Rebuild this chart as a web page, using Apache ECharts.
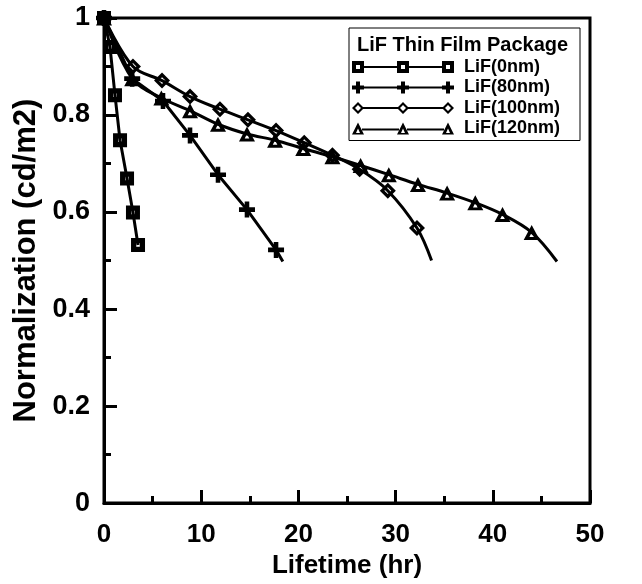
<!DOCTYPE html>
<html>
<head>
<meta charset="utf-8">
<script src="https://cdn.jsdelivr.net/npm/echarts@6/dist/echarts.min.js"></script>
<style>
  html, body { margin: 0; padding: 0; background: #fff; }
  #chart { width: 642px; height: 584px; }
</style>
</head>
<body>
<div id="chart"></div>
<script>
// values (x = lifetime in hours, y = normalized luminance)
let lif0X = [0, 0.62, 1.13, 1.65, 2.37, 2.98, 3.5]
let lif0Y = [1.0, 0.94, 0.841, 0.748, 0.669, 0.599, 0.532]

let lif80X = [0, 2.9, 6.07, 8.85, 11.73, 14.71, 17.7, 18.4]
let lif80Y = [1.0, 0.875, 0.829, 0.758, 0.677, 0.605, 0.522, 0.498]

let lif100X = [0, 2.98, 5.97, 8.85, 11.93, 14.81, 17.7, 20.6, 23.5, 26.3, 29.2, 32.2, 33.7]
let lif100Y = [1.0, 0.90, 0.871, 0.838, 0.812, 0.79, 0.768, 0.743, 0.717, 0.688, 0.644, 0.567, 0.50]

let lif120X = [0, 2.9, 5.9, 8.85, 11.73, 14.71, 17.6, 20.5, 23.5, 26.4, 29.3, 32.3, 35.3, 38.2, 41.0, 44.0, 46.6]
let lif120Y = [1.0, 0.875, 0.835, 0.809, 0.781, 0.761, 0.748, 0.731, 0.714, 0.696, 0.677, 0.657, 0.639, 0.619, 0.595, 0.558, 0.498]

let seriesNames = ['LiF(0nm)', 'LiF(80nm)', 'LiF(100nm)', 'LiF(120nm)']
let legendTitle = 'LiF Thin Film Package'
// the curves go on a little past the last marker for these series
let lastIsEnd = [false, true, true, true]

// marker shapes: black with a small white hole
let symSquare = 'path://M0,0H12V12H0Z M4.5,4.5V7.5H7.5V4.5Z'
let symCross = 'path://M5,0H9V14H5Z M0,5H14V9H0Z'
let symDiamond = 'path://M7,0L14,7L7,14L0,7Z M7,4L4,7L7,10L10,7Z'
let symTriangle = 'path://M7,0L14,13L0,13Z M7,6.5L5,10.5L9,10.5Z'

// legend samples: line with three markers
let iconSquare = 'path://M0,0H12V12H0Z M4,4V8H8V4Z M45,0H57V12H45Z M49,4V8H53V4Z M90,0H102V12H90Z M94,4V8H98V4Z M12,5H45V7H12Z M57,5H90V7H57Z'
let iconCross = 'path://M4,0H8V12H4Z M0,4H12V8H0Z M49,0H53V12H49Z M45,4H57V8H45Z M94,0H98V12H94Z M90,4H102V8H90Z M0,5H102V7H0Z'
let iconDiamond = 'path://M6,0L12,6L6,12L0,6Z M6,3L3,6L6,9L9,6Z M51,0L57,6L51,12L45,6Z M51,3L48,6L51,9L54,6Z M96,0L102,6L96,12L90,6Z M96,3L93,6L96,9L99,6Z M11,5H46V7H11Z M56,5H91V7H56Z'
let iconTriangle = 'path://M6,0L12,12L0,12Z M6,6L4,10.5L8,10.5Z M51,0L57,12L45,12Z M51,6L49,10.5L53,10.5Z M96,0L102,12L90,12Z M96,6L94,10.5L98,10.5Z M10,6H47V8H10Z M55,6H92V8H55Z'

let seriesX = [lif0X, lif80X, lif100X, lif120X]
let seriesY = [lif0Y, lif80Y, lif100Y, lif120Y]
let symbols = [symSquare, symCross, symDiamond, symTriangle]
let symbolSizes = [14, 16, 16, [16, 15]]
let icons = [iconSquare, iconCross, iconDiamond, iconTriangle]
let smooths = [false, false, 0.35, 0.35]

let font = 'Liberation Sans, Arial, sans-serif'

let setChart = function(ele, options) {
    if (typeof echarts === 'object') {
        let myChart = echarts.init(ele, null, { renderer: 'canvas' })
        myChart.setOption(options)
        return myChart
    }
}

let series = seriesNames.map(function(name, i) {
    let xs = seriesX[i], ys = seriesY[i]
    let data = xs.map(function(x, j) {
        let item = { value: [x, ys[j]] }
        if (lastIsEnd[i] && j === xs.length - 1) item.symbol = 'none'
        return item
    })
    return {
        name: name,
        type: 'line',
        data: data,
        smooth: smooths[i],
        symbol: symbols[i],
        symbolSize: symbolSizes[i],
        showAllSymbol: true,
        clip: false,
        lineStyle: { color: '#000', width: 3 },
        itemStyle: { color: '#000' },
        emphasis: { disabled: true },
        z: 3
    }
})

let axisCommon = {
    type: 'value',
    axisLine: { show: true, lineStyle: { color: '#000', width: 3 } },
    axisTick: { show: true, inside: true, length: 13, lineStyle: { color: '#000', width: 3 } },
    minorTick: { show: true, splitNumber: 2, length: 7, lineStyle: { color: '#000', width: 3 } },
    splitLine: { show: false },
    minorSplitLine: { show: false },
    nameTextStyle: { color: '#000', fontWeight: 'bold', fontSize: 26, fontFamily: font }
}

let options = {
    animation: false,
    backgroundColor: '#fff',
    grid: {
        left: 104, right: 52, top: 18, bottom: 70,
        show: true, borderColor: '#000', borderWidth: 3, backgroundColor: 'transparent'
    },
    xAxis: Object.assign({}, axisCommon, {
        min: 0, max: 50, interval: 10,
        name: 'Lifetime (hr)', nameLocation: 'middle', nameGap: 38,
        axisLabel: { color: '#000', fontWeight: 'bold', fontSize: 26, fontFamily: font, margin: 19 }
    }),
    yAxis: Object.assign({}, axisCommon, {
        min: 0, max: 1, interval: 0.2,
        name: 'Normalization (cd/m2)', nameLocation: 'middle', nameGap: 54,
        nameTextStyle: { color: '#000', fontWeight: 'bold', fontSize: 31, fontFamily: font },
        axisLabel: {
            color: '#000', fontWeight: 'bold', fontSize: 27, fontFamily: font, margin: 14,
            formatter: function(v) { return (v === 0 || v === 1) ? String(v) : v.toFixed(1) }
        }
    }),
    legend: {
        orient: 'vertical',
        left: 349, top: 28,
        padding: [30, 20, 3, 3],
        itemWidth: 102, itemHeight: 12, itemGap: 2.5,
        backgroundColor: '#fff',
        borderColor: '#000', borderWidth: 1,
        selectedMode: false,
        textStyle: { color: '#000', fontWeight: 'bold', fontSize: 18, fontFamily: font, padding: [0, 0, 0, 5], lineHeight: 18 },
        data: seriesNames.map(function(n, i) {
            return { name: n, icon: icons[i], itemStyle: { color: '#000', borderWidth: 0 } }
        })
    },
    graphic: [{
        type: 'text', left: 357, top: 35, z: 100,
        style: { text: legendTitle, fill: '#000', font: 'bold 20px ' + font }
    }],
    series: series
}

setChart(document.getElementById('chart'), options)
</script>
</body>
</html>
